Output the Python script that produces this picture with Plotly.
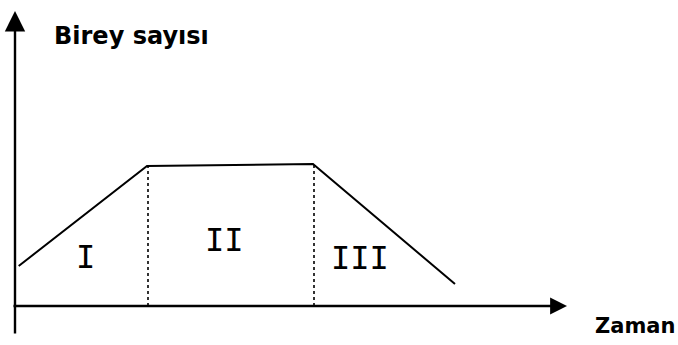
import numpy as np
import plotly.graph_objects as go

# Population curve (time units, individuals), origin at axis crossing
time = [3.7, 132, 298, 440]
population = [40, 140, 142, 22]
phase_bounds = [133, 299]
phase_labels = ["I", "II", "III"]
phase_label_x = [70, 209, 345]
phase_label_y = [49, 66, 48]
y_title = "Birey sayısı"
x_title = "Zaman"

fig = go.Figure()

fig.add_trace(go.Scatter(x=time, y=population, mode="lines",
                         line=dict(color="black", width=2), hoverinfo="skip"))

for b in phase_bounds:
    top = float(np.interp(b, time, population))
    fig.add_trace(go.Scatter(x=[b, b], y=[0, top], mode="lines",
                             line=dict(color="black", width=1.6, dash="dot"),
                             hoverinfo="skip"))

annotations = []
# y axis arrow
annotations.append(dict(x=0, y=295, ax=0, ay=-29, xref="x", yref="y", axref="x", ayref="y",
                        showarrow=True, arrowhead=2, arrowsize=1.7, arrowwidth=2.4,
                        arrowcolor="black", text=""))
# x axis arrow
annotations.append(dict(x=552, y=0, ax=-3, ay=0, xref="x", yref="y", axref="x", ayref="y",
                        showarrow=True, arrowhead=2, arrowsize=1.3, arrowwidth=2.6,
                        arrowcolor="black", text=""))

for lab, lx, ly in zip(phase_labels, phase_label_x, phase_label_y):
    annotations.append(dict(x=lx, y=ly, xref="x", yref="y", text=lab, showarrow=False,
                            font=dict(family="DejaVu Sans Mono", size=32, color="black")))

annotations.append(dict(x=37, y=270, xref="x", yref="y", text="<b>" + y_title + "</b>",
                        showarrow=False, xanchor="left",
                        font=dict(family="DejaVu Sans", size=24, color="black")))
annotations.append(dict(x=662, y=-20, xref="x", yref="y", text="<b>" + x_title + "</b>",
                        showarrow=False, xanchor="right",
                        font=dict(family="DejaVu Sans", size=21, color="black")))

fig.update_layout(
    width=678, height=345,
    margin=dict(l=0, r=0, t=0, b=0),
    paper_bgcolor="white", plot_bgcolor="white",
    showlegend=False,
    xaxis=dict(range=[-15, 663], visible=False, fixedrange=True),
    yaxis=dict(range=[-39, 306], visible=False, fixedrange=True),
    annotations=annotations,
)

fig.write_html("out.html", config={"displayModeBar": False},
               post_script="document.body.style.margin='0';document.body.style.overflow='hidden';")
